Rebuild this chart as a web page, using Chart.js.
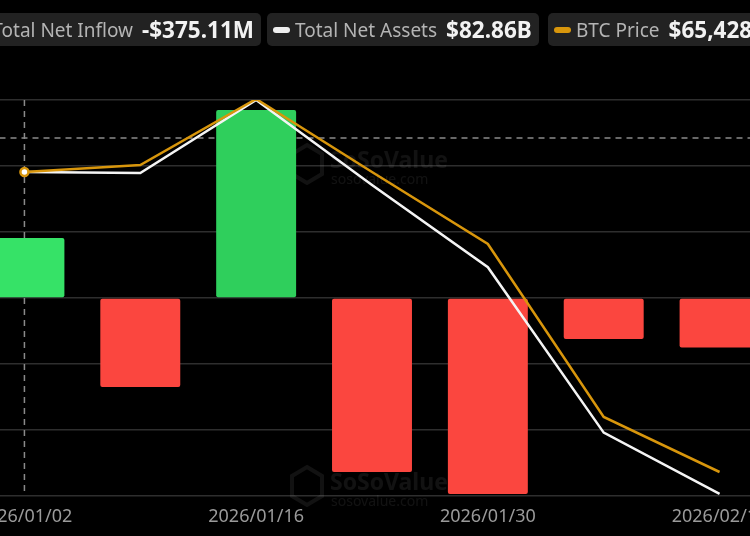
<!DOCTYPE html>
<html>
<head>
<meta charset="utf-8">
<script src="https://cdn.jsdelivr.net/npm/chart.js@4.4.1/dist/chart.umd.min.js"></script>
<style>
    body { margin: 0; background: #000; width: 750px; height: 536px; overflow: hidden; position: relative; font-family: "Noto Sans", sans-serif; }
    #wrap { position: absolute; left: -40px; top: 0; width: 824px; height: 536px; }
    .box { position: absolute; top: 13px; height: 33px; background: #222; border-radius: 5px; display: flex; align-items: center; white-space: nowrap; padding: 0 7px 0 6px; box-sizing: border-box; }
    .lbl { color: #b4b4b4; font-size: 19px; }
    .val { color: #f2f2f2; font-size: 22.5px; font-weight: bold; margin-left: 9px; }
    .mark { width: 17px; height: 6px; border-radius: 3px; margin-right: 5px; }
</style>
</head>
<body>
<div id="wrap"><canvas id="flowChart"></canvas></div>

<div class="box" style="right: 489px;">
    <span class="mark" style="background:#2fcf5c"></span>
    <span class="lbl">Total Net Inflow</span><span class="val">-$375.11M</span>
</div>
<div class="box" style="left: 267px;">
    <span class="mark" style="background:#eee"></span>
    <span class="lbl">Total Net Assets</span><span class="val">$82.86B</span>
</div>
<div class="box" style="left: 548px; padding-right: 30px;">
    <span class="mark" style="background:#d8960c"></span>
    <span class="lbl">BTC Price</span><span class="val">$65,428</span>
</div>

<script>
// weekly data
const weeks = ['2026/01/02', '2026/01/09', '2026/01/16', '2026/01/23', '2026/01/30', '2026/02/06', '2026/02/13'];
const netInflow = [455, -674, 1424, -1318, -1485, -311, -375.11];   // $M
const netAssets = [117.7, 117.6, 125.5, 116.3, 107.4, 89.5, 82.86]; // $B
const btcPrice = [89615, 90180, 95500, 89615, 83808, 69863, 65428];  // $
const flowTicks = [-1500, -1000, -500, 0, 500, 1000, 1500];

const hoverIndex = 0;

const barColors = netInflow.map((v, i) => {
    if (v >= 0) return i === hoverIndex ? '#36e267' : '#2fcf5c';
    return '#fb463f';
});

// crosshair + watermark
const overlay = {
    id: 'overlay',
    beforeDatasetsDraw(chart) {
        const { ctx, chartArea, scales } = chart;
        ctx.save();
        // watermarks
        ctx.fillStyle = 'rgba(255,255,255,0.07)';
        ctx.strokeStyle = 'rgba(255,255,255,0.07)';
        [163, 485].forEach(cy => {
            const x0 = 291 + 40;
            ctx.font = 'bold 23px "Noto Sans"';
            ctx.textBaseline = 'middle';
            ctx.fillText('SoSoValue', x0 + 39, cy - 2);
            ctx.font = '14px "Noto Sans"';
            ctx.fillText('sosovalue.com', x0 + 40, cy + 17);
            ctx.lineWidth = 4;
            ctx.beginPath();
            ctx.moveTo(x0 + 16, cy - 18);
            ctx.lineTo(x0 + 31, cy - 9);
            ctx.lineTo(x0 + 31, cy + 11);
            ctx.lineTo(x0 + 16, cy + 20);
            ctx.lineTo(x0 + 1, cy + 11);
            ctx.lineTo(x0 + 1, cy - 9);
            ctx.closePath();
            ctx.stroke();
        });
        // dashed lines
        const x = scales.x.getPixelForValue(hoverIndex);
        ctx.strokeStyle = '#8a8a8a';
        ctx.lineWidth = 1.5;
        ctx.setLineDash([6, 5]);
        ctx.beginPath();
        ctx.moveTo(x, chartArea.top);
        ctx.lineTo(x, chartArea.bottom);
        ctx.moveTo(chartArea.left, 138);
        ctx.lineTo(chartArea.right, 138);
        ctx.stroke();
        ctx.restore();
    }
};

const ctx = document.getElementById('flowChart').getContext('2d');
new Chart(ctx, {
    type: 'bar',
    data: {
        labels: weeks,
        datasets: [
            {
                type: 'line',
                label: 'BTC Price',
                data: btcPrice,
                yAxisID: 'yBtc',
                borderColor: '#d8960c',
                borderWidth: 2.5,
                pointRadius: btcPrice.map((v, i) => i === hoverIndex ? 4 : 0),
                pointBackgroundColor: '#ffffff',
                pointBorderColor: '#d8960c',
                pointBorderWidth: 2.5,
                tension: 0,
                order: 1
            },
            {
                type: 'line',
                label: 'Total Net Assets',
                data: netAssets,
                yAxisID: 'yAssets',
                borderColor: '#f4f4f4',
                borderWidth: 2.5,
                pointRadius: 0,
                tension: 0,
                order: 2
            },
            {
                label: 'Total Net Inflow',
                data: netInflow,
                yAxisID: 'y',
                backgroundColor: barColors,
                borderRadius: 2,
                borderSkipped: false,
                categoryPercentage: 1,
                barPercentage: 0.69,
                order: 3
            }
        ]
    },
    options: {
        responsive: true,
        maintainAspectRatio: false,
        animation: false,
        layout: { padding: { top: 100, left: 0, right: 0, bottom: 0 } },
        plugins: {
            legend: { display: false },
            tooltip: { enabled: false }
        },
        scales: {
            x: {
                grid: { display: false },
                border: { display: false },
                ticks: {
                    autoSkip: false,
                    maxRotation: 0,
                    padding: 2,
                    color: '#9a9a9a',
                    font: { family: 'Noto Sans', size: 18 },
                    callback: function (value, index) {
                        return index % 2 === 0 ? weeks[index] : '';
                    }
                },
                afterFit: function (scale) { scale.height = 40; }
            },
            y: {
                display: true,
                min: -1500,
                max: 1500,
                afterBuildTicks: function (scale) {
                    scale.ticks = flowTicks.map(v => ({ value: v }));
                },
                ticks: { display: false },
                grid: { color: '#2e2e2e', lineWidth: 1.5, drawTicks: false },
                border: { display: false },
                afterFit: function (scale) { scale.width = 0; }
            },
            yAssets: { display: false, min: 82.64, max: 125.5 },
            yBtc: { display: false, min: 63493, max: 95419 }
        }
    },
    plugins: [overlay]
});
</script>
</body>
</html>
